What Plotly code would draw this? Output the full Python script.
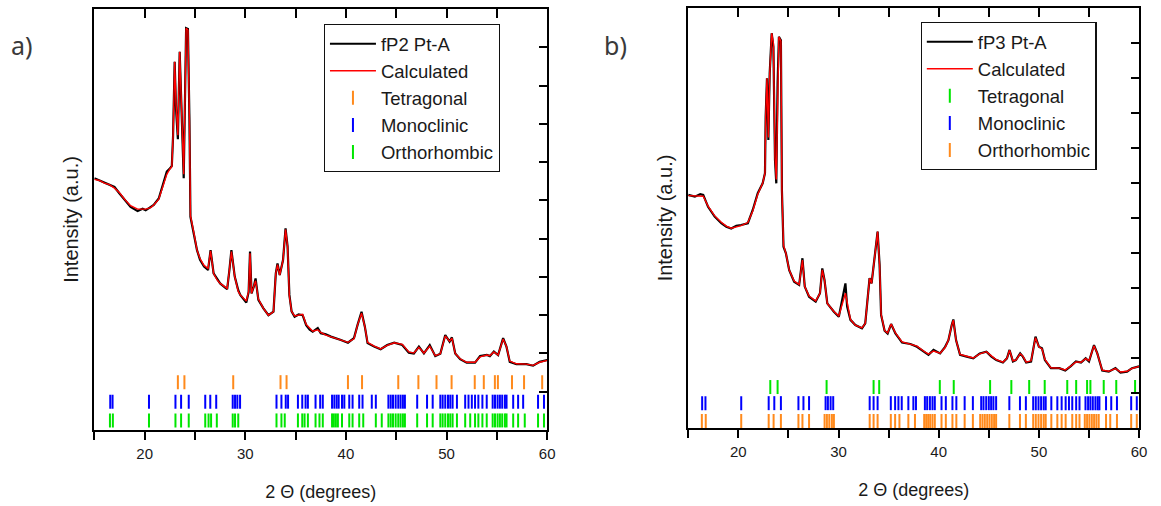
import plotly.graph_objects as go

# ---------------- data : panel a (fP2 Pt-A) ----------------
two_theta_a = [15.0, 15.5, 16.0, 16.5, 17.0, 17.5, 18.0, 18.6, 19.3, 19.8, 20.1, 20.6, 20.9, 21.4, 21.9,
               22.2, 22.5, 22.7, 22.82, 22.98, 23.12, 23.3, 23.48, 23.7, 23.88, 24.12, 24.3, 24.45, 24.55,
               24.9, 25.2, 25.5, 25.9, 26.3, 26.55, 26.85, 27.2, 27.5, 28.0, 28.2, 28.42, 28.62, 28.95,
               29.3, 29.5, 30.1, 30.33, 30.47, 30.62, 30.85, 31.02, 31.3, 31.8, 32.3, 32.8, 33.03, 33.2,
               33.42, 33.75, 34.0, 34.2, 34.38, 34.6, 34.9, 35.3, 35.7, 36.05, 36.4, 36.7, 37.2, 37.5,
               38.0, 38.5, 39.0, 39.5, 40.2, 40.8, 41.15, 41.55, 41.88, 42.15, 42.8, 43.45, 44.1, 44.8,
               45.6, 46.25, 46.75, 47.25, 47.75, 48.33, 48.88, 49.38, 49.87, 50.3, 50.53, 50.86, 51.35,
               52.0, 52.83, 53.33, 54.0, 54.3, 54.7, 55.12, 55.62, 55.95, 56.28, 56.94, 57.93, 58.6,
               59.25, 60.0]
observed_a = [658, 652, 648, 640, 635, 618, 601, 583, 572, 578, 574, 582, 588, 605, 645,
              675, 683, 690, 766, 962, 836, 760, 988, 814, 658, 1050, 1048, 810, 557,
              510, 470, 445, 427, 418, 470, 409, 395, 383, 372, 368, 418, 470, 401,
              365, 353, 333, 360, 466, 357, 375, 396, 340, 318, 300, 309, 409, 435,
              405, 444, 527, 480, 353, 310, 296, 302, 300, 274, 262, 257, 266, 253,
              250, 244, 240, 235, 228, 240, 274, 309, 270, 227, 218, 211, 222, 228,
              222, 202, 200, 218, 200, 222, 193, 199, 248, 231, 242, 200, 185,
              176, 176, 193, 196, 193, 205, 196, 240, 218, 178, 172, 172, 168,
              178, 183]
calculated_a = [655, 652, 645, 641, 632, 620, 603, 586, 577, 576, 577, 581, 588, 603, 640,
                668, 682, 688, 766, 962, 850, 770, 988, 814, 668, 1050, 1045, 810, 560,
                514, 470, 448, 430, 422, 468, 409, 392, 383, 374, 370, 418, 466, 401,
                362, 353, 337, 362, 462, 357, 380, 390, 342, 318, 300, 309, 409, 432,
                405, 444, 524, 480, 350, 310, 298, 300, 302, 276, 265, 258, 262, 255,
                248, 244, 240, 236, 229, 238, 274, 305, 270, 229, 219, 212, 221, 228,
                224, 204, 201, 216, 201, 219, 194, 199, 246, 232, 240, 200, 186,
                177, 177, 191, 196, 194, 204, 196, 238, 218, 180, 173, 172, 169,
                177, 182]
tetragonal_a = [23.3, 23.95, 28.8, 33.5, 34.1, 40.2, 41.6, 45.2, 47.2, 49.0, 50.5, 52.8, 53.7, 54.8,
                55.1, 56.5, 57.7, 59.5]
monoclinic_a = [16.58, 16.81, 20.43, 23.06, 23.62, 24.38, 26.02, 26.52, 27.11, 28.75, 28.98, 29.21,
                29.48, 33.1, 33.59, 34.02, 34.25, 35.23, 35.66, 35.99, 36.22, 36.98, 37.44, 37.7,
                38.62, 38.85, 39.08, 39.28, 39.61, 39.84, 40.33, 40.66, 41.32, 41.65, 42.57, 42.97,
                44.22, 44.45, 44.68, 44.94, 45.2, 45.43, 45.66, 45.86, 47.08, 48.06, 48.62, 49.38,
                49.61, 49.87, 50.14, 50.37, 50.6, 51.03, 51.85, 52.18, 52.51, 52.83, 53.16, 53.56,
                53.99, 54.58, 54.81, 55.07, 55.3, 55.53, 55.8, 55.96, 56.62, 57.11, 57.61, 59.09, 59.68]
orthorhombic_a = [16.55, 16.84, 20.43, 23.06, 23.62, 24.38, 26.02, 26.35, 26.6, 27.17, 28.75, 28.98,
                  29.3, 33.1, 33.59, 33.92, 35.23, 35.66, 35.89, 36.22, 36.98, 37.37, 37.7, 38.62,
                  38.8, 39.0, 39.2, 39.61, 40.33, 40.66, 41.32, 41.72, 42.97, 43.56, 44.22, 44.45,
                  44.68, 44.94, 45.2, 45.43, 45.66, 45.86, 47.08, 48.06, 48.62, 49.38, 49.61, 49.87,
                  50.14, 50.37, 50.6, 51.03, 51.85, 52.35, 52.83, 53.16, 53.56, 53.99, 54.58, 54.81,
                  55.07, 55.3, 55.53, 55.8, 55.96, 56.62, 57.11, 57.77, 59.09, 59.68]

# ---------------- data : panel b (fP3 Pt-A) ----------------
two_theta_b = [15.0, 15.66, 16.2, 16.5, 16.98, 17.64, 18.3, 18.8, 19.29, 19.8, 20.28, 20.95, 21.44,
               21.94, 22.43, 22.66, 22.73, 22.86, 23.0, 23.13, 23.33, 23.5, 23.66, 23.79, 23.92, 24.05,
               24.25, 24.35, 24.51, 24.75, 25.08, 25.57, 26.07, 26.23, 26.4, 26.63, 27.06, 27.72, 28.15,
               28.38, 28.6, 28.88, 29.54, 30.03, 30.36, 30.69, 30.86, 31.19, 31.68, 32.34, 32.67, 32.84,
               33.1, 33.3, 33.66, 33.9, 34.1, 34.25, 34.6, 34.9, 35.25, 35.68, 36.34, 37.17, 37.83,
               38.49, 38.98, 39.48, 40.14, 40.64, 40.97, 41.3, 41.46, 41.73, 42.13, 42.79, 43.45, 44.1,
               44.76, 45.26, 45.75, 46.41, 46.81, 47.07, 47.41, 47.7, 48.13, 48.4, 48.73, 49.22, 49.46,
               49.66, 50.0, 50.31, 50.6, 51.2, 52.03, 52.63, 53.19, 53.69, 54.2, 54.67, 55.0, 55.5,
               55.83, 56.32, 56.98, 57.64, 58.14, 58.8, 59.29, 59.8, 60.0]
observed_b = [666, 661, 668, 666, 632, 604, 585, 575, 570, 578, 580, 585, 623,
              671, 699, 728, 889, 999, 823, 1013, 1128, 1089, 766, 699, 985, 1118,
              1108, 680, 518, 499, 451, 418, 409, 451, 485, 404, 375, 361, 385,
              456, 423, 356, 332, 318, 361, 413, 347, 309, 294, 285, 299, 356,
              428, 413, 504, 561, 466, 323, 278, 270, 297, 270, 244, 240, 232,
              218, 209, 223, 213, 232, 251, 294, 310, 251, 209, 204, 199, 213,
              218, 204, 194, 187, 199, 223, 190, 194, 213, 204, 187, 190, 232,
              261, 232, 228, 194, 171, 171, 164, 177, 190, 187, 199, 190, 237,
              213, 164, 161, 171, 158, 161, 171, 175, 176]
calculated_b = [664, 664, 664, 662, 634, 606, 588, 577, 571, 575, 578, 587, 620,
                668, 699, 728, 889, 999, 830, 1010, 1128, 1100, 775, 710, 985, 1118,
                1105, 680, 522, 499, 451, 420, 410, 448, 480, 404, 377, 363, 385,
                452, 423, 356, 333, 320, 355, 385, 360, 310, 294, 286, 299, 356,
                428, 413, 504, 561, 466, 325, 278, 272, 297, 272, 246, 240, 234,
                220, 211, 220, 214, 230, 251, 294, 308, 251, 210, 205, 200, 212,
                218, 206, 195, 188, 199, 222, 192, 194, 212, 205, 188, 192, 232,
                258, 232, 226, 196, 172, 171, 166, 177, 189, 188, 198, 192, 235,
                213, 165, 162, 170, 160, 162, 170, 175, 176]
tetragonal_b = [23.19, 23.92, 28.81, 33.5, 34.06, 40.11, 41.5, 45.13, 47.25, 49.03, 50.58, 52.83,
                53.72, 54.81, 55.14, 56.47, 57.72, 59.6]
monoclinic_b = [16.39, 16.72, 20.29, 23.03, 23.59, 24.25, 26.0, 26.5, 27.06, 28.71, 28.94, 29.21,
                29.47, 33.11, 33.5, 33.9, 35.22, 35.65, 35.98, 36.31, 36.97, 37.47, 37.73, 38.62,
                38.85, 39.12, 39.38, 39.61, 40.28, 40.71, 41.37, 41.76, 42.59, 43.41, 44.24, 44.47,
                44.74, 45.0, 45.23, 45.46, 45.73, 47.05, 48.11, 48.7, 49.43, 49.69, 49.96, 50.22,
                50.48, 50.68, 51.24, 51.84, 52.27, 52.67, 53.0, 53.33, 53.72, 54.05, 54.65, 54.91,
                55.14, 55.38, 55.64, 55.87, 56.04, 56.7, 57.22, 57.79, 59.21, 59.77]
orthorhombic_b = [16.36, 16.75, 20.29, 23.03, 23.52, 24.25, 26.0, 26.4, 27.06, 28.61, 28.84, 29.08,
                  29.34, 29.54, 33.11, 33.5, 33.9, 35.22, 35.65, 36.08, 36.97, 37.63, 38.55, 38.75,
                  38.95, 39.15, 39.38, 39.61, 40.28, 40.71, 41.37, 41.76, 42.59, 43.41, 44.14, 44.37,
                  44.6, 44.84, 45.07, 45.3, 45.53, 45.73, 47.05, 48.11, 48.7, 49.43, 49.69, 49.96,
                  50.22, 50.48, 50.68, 51.24, 51.84, 52.27, 52.67, 53.33, 53.72, 54.05, 54.58, 54.81,
                  55.04, 55.28, 55.51, 55.74, 55.97, 56.7, 57.12, 57.79, 59.21, 59.77]

x_tick_vals = [15, 20, 25, 30, 35, 40, 45, 50, 55, 60]
x_tick_text = ["", "20", "", "30", "", "40", "", "50", "", "60"]

# reflection-marker row levels (intensity units)
rows_a = {"Tetragonal": 125, "Monoclinic": 74, "Orthorhombic": 25}
rows_b = {"Tetragonal": 117, "Monoclinic": 71, "Orthorhombic": 20}

ORANGE = "#FF8A1C"
BLUE = "#0000FF"
GREEN = "#00E600"
FONT = "Liberation Sans"

fig = go.Figure()


def add_panel(xa, ya, xtop, yright, leg, name, tt, obs, calc, phases, rows):
    # invisible carriers so that the top / right tick axes are drawn
    fig.add_trace(go.Scatter(x=tt, y=obs, xaxis=xa, yaxis=yright, mode="lines", opacity=0,
                             showlegend=False, hoverinfo="skip"))
    fig.add_trace(go.Scatter(x=tt, y=obs, xaxis=xtop, yaxis=ya, mode="lines", opacity=0,
                             showlegend=False, hoverinfo="skip"))
    fig.add_trace(go.Scatter(x=tt, y=obs, mode="lines", name=name, xaxis=xa, yaxis=ya, legend=leg,
                             legendgroup=leg + "obs", line=dict(color="black", width=2.2)))
    fig.add_trace(go.Scatter(x=tt, y=calc, mode="lines", name="Calculated", xaxis=xa, yaxis=ya,
                             legend=leg, legendgroup=leg + "calc", line=dict(color="#FF0000", width=1.4)))
    for pname, pos, col in phases:
        fig.add_trace(go.Scatter(x=pos, y=[rows[pname]] * len(pos), mode="markers", name=pname,
                                 xaxis=xa, yaxis=ya, legend=leg, legendgroup=leg + pname,
                                 marker=dict(symbol="line-ns", size=10, color=col,
                                             line=dict(color=col, width=2))))


add_panel("x", "y", "x3", "y3", "legend", "fP2 Pt-A", two_theta_a, observed_a, calculated_a,
          [("Tetragonal", tetragonal_a, ORANGE), ("Monoclinic", monoclinic_a, BLUE),
           ("Orthorhombic", orthorhombic_a, GREEN)], rows_a)
add_panel("x2", "y2", "x4", "y4", "legend2", "fP3 Pt-A", two_theta_b, observed_b, calculated_b,
          [("Tetragonal", tetragonal_b, GREEN), ("Monoclinic", monoclinic_b, BLUE),
           ("Orthorhombic", orthorhombic_b, ORANGE)], rows_b)

dom_xa = [95 / 1161, 551 / 1161]
dom_xb = [693 / 1161, 1147 / 1161]
dom_ya = [1 - 430 / 506, 1 - 9 / 506]
dom_yb = [1 - 428 / 506, 1 - 8 / 506]


def bottom_x(dom, anchor):
    return dict(domain=dom, anchor=anchor, range=[15, 60], tickmode="array", tickvals=x_tick_vals,
                ticktext=x_tick_text, ticks="outside", ticklen=8, tickwidth=2, tickcolor="black",
                showline=True, linewidth=2, linecolor="black", mirror=True, showgrid=False,
                zeroline=False, ticklabelstandoff=1,
                tickfont=dict(family=FONT, size=15, color="#1a1a1a"),
                title=dict(text="2 \u0398 (degrees)", font=dict(family=FONT, size=18, color="#1a1a1a"),
                           standoff=24))


def top_x(over, anchor):
    # top frame: inward ticks every 5 degrees (drawn as mirrored inside ticks of an overlay axis)
    return dict(overlaying=over, anchor=anchor, side="top", range=[15, 60], dtick=5, tick0=15,
                ticks="inside", ticklen=9, tickwidth=2, tickcolor="black",
                showticklabels=False, showline=True, linewidth=2, linecolor="black",
                showgrid=False, zeroline=False)


def left_y(dom, anchor, top):
    return dict(domain=dom, anchor=anchor, range=[0, top], showticklabels=False, ticks="",
                showline=True, linewidth=2, linecolor="black", mirror=True, showgrid=False,
                zeroline=False,
                title=dict(text="Intensity (a.u.)", font=dict(family=FONT, size=20, color="#1a1a1a"),
                           standoff=8))


def right_y(over, anchor, top):
    return dict(overlaying=over, anchor=anchor, side="right", range=[0, top], dtick=100,
                tick0=0, ticks="inside", ticklen=8, tickwidth=2, tickcolor="black",
                showticklabels=False, showline=False, showgrid=False, zeroline=False)


legend_style = dict(bgcolor="white", bordercolor="#111111", borderwidth=1.2,
                    font=dict(family=FONT, size=18.5, color="#1a1a1a"), tracegroupgap=0,
                    itemwidth=46, xanchor="left", yanchor="top")

fig.update_layout(
    width=1161, height=506, margin=dict(l=0, r=0, t=0, b=0),
    paper_bgcolor="white", plot_bgcolor="white", showlegend=True,
    xaxis=bottom_x(dom_xa, "y"), xaxis2=bottom_x(dom_xb, "y2"),
    xaxis3=top_x("x", "y"), xaxis4=top_x("x2", "y2"),
    yaxis=left_y(dom_ya, "x", 1100), yaxis2=left_y(dom_yb, "x2", 1200),
    yaxis3=right_y("y", "x", 1100), yaxis4=right_y("y2", "x2", 1200),
    legend=dict(x=326 / 1161, y=1 - 24 / 506, **legend_style),
    legend2=dict(x=927 / 1161, y=1 - 22 / 506, **legend_style),
    annotations=[
        dict(text="a)", x=22 / 1161, y=1 - 45 / 506, xref="paper", yref="paper", showarrow=False,
             xanchor="center", yanchor="middle",
             font=dict(family="Noto Sans", size=25, color="#3a3a3a")),
        dict(text="b)", x=620 / 1161, y=1 - 45 / 506, xref="paper", yref="paper", showarrow=False,
             xanchor="center", yanchor="middle",
             font=dict(family="Noto Sans", size=25, color="#3a3a3a")),
    ],
)

fig.write_html("out.html")
